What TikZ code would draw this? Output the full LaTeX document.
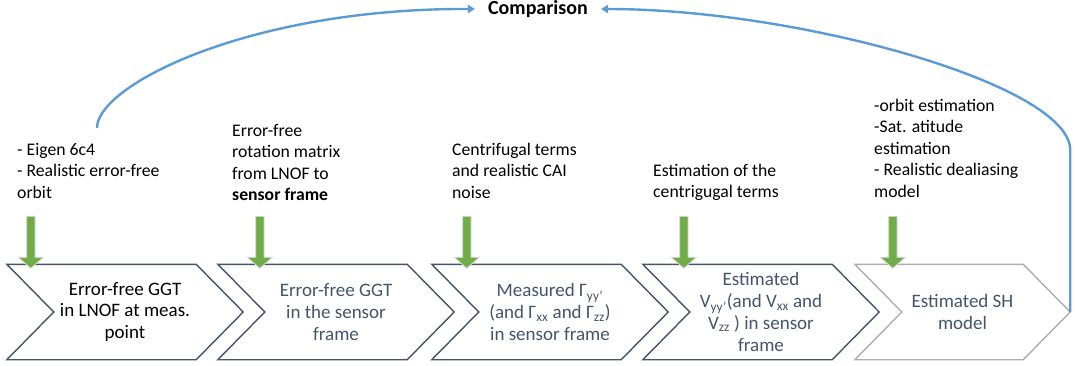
\documentclass[tikz,border=0pt]{standalone}
\usepackage{fontspec}
\setmainfont{Carlito}
\usetikzlibrary{arrows.meta,calc}
\definecolor{slate}{HTML}{44546A}
\definecolor{cgray}{HTML}{ADADAD}
\definecolor{ggreen}{HTML}{70AD47}
\definecolor{lblue}{HTML}{5B9BD5}
\newcommand\chevoutline[2]{\draw[#2] (#1.north west) -- ([xshift=-47pt]#1.north east) -- (#1.east) -- ([xshift=-47pt]#1.south east) -- (#1.south west) -- ([xshift=47pt]#1.west) -- cycle;}
\tikzset{
  garrow/.pic={\path[fill=ggreen, draw=gray!30, line width=0.8pt] (-4.2,-52) -- (4.2,-52) -- (4.2,-11) -- (12.5,-11) -- (0,0) -- (-12.5,-11) -- (-4.2,-11) -- cycle;},
  note/.style={anchor=base west, inner sep=0pt, align=left, font=\fontsize{17.7}{21.5}\selectfont},
  chev/.style={minimum width=#1, minimum height=95pt, inner sep=0pt, align=center, font=\fontsize{19}{21.7}\selectfont, text=slate},
  chevline/.style={draw=slate, line width=1.4pt, line join=miter},
  chevlinegray/.style={draw=cgray, line width=1.4pt, line join=miter},
  flow/.style={draw=lblue, line width=2.4pt, -{Triangle[length=7pt,width=8pt]}},
}
\begin{document}
\begin{tikzpicture}[x=1pt,y=-1pt]
\useasboundingbox (0,0) rectangle (1075,366);
% process chevrons
\node[chev=236pt, text=black] (g1) at (125,312) {Error-free GGT\\in LNOF at meas.\\point};
\node[chev=236pt] (g2) at (336,312) {Error-free GGT\\in the sensor\\frame};
\node[chev=236pt] (g3) at (550,312) {Measured Γ\textsubscript{yy’}\\(and Γ\textsubscript{xx} and Γ\textsubscript{zz})\\in sensor frame};
\node[chev=236pt] (g4) at (761,312) {Estimated\\V\textsubscript{yy’}(and V\textsubscript{xx} and\\V\textsubscript{zz} ) in sensor\\frame};
\node[chev=215pt] (g5) at (962.5,312) {Estimated SH\\model};
\chevoutline{g1}{chevline}
\chevoutline{g2}{chevline}
\chevoutline{g3}{chevline}
\chevoutline{g4}{chevline}
\chevoutline{g5}{chevlinegray}
% input arrows
\pic at ([shift={(24,4)}]g1.north west) {garrow};
\pic at ([shift={(42,4)}]g2.north west) {garrow};
\pic at ([shift={(35,4)}]g3.north west) {garrow};
\pic at ([shift={(41,4)}]g4.north west) {garrow};
\pic at ([shift={(38,4)}]g5.north west) {garrow};
% input notes
\node[note] (t1) at (17,198) {- Eigen 6c4\\- Realistic error-free\\orbit};
\node[note] (t2) at (232,200.5) {Error-free\\rotation matrix\\from LNOF to\\\textbf{sensor frame}};
\node[note] (t3) at (452,198) {Centrifugal terms\\and realistic CAI\\noise};
\node[note] (t4) at (653,197.5) {Estimation of the\\centrigugal terms};
\node[note] (t5) at (874,197) {-orbit estimation\\-Sat. atitude\\estimation\\- Realistic dealiasing\\model};
% comparison
\node[font=\bfseries\fontsize{20}{24}\selectfont, inner xsep=13pt, inner ysep=0pt] (cmp) at (538,9) {Comparison};
\coordinate (c1) at (97,128);
\draw[flow] (c1) .. controls (97,85) and (250,8) .. (cmp.west);
\draw[flow] (g5.east) -- ++(0,-162) .. controls +(0,-65) and +(198,0) .. (cmp.east);
\end{tikzpicture}
\end{document}
